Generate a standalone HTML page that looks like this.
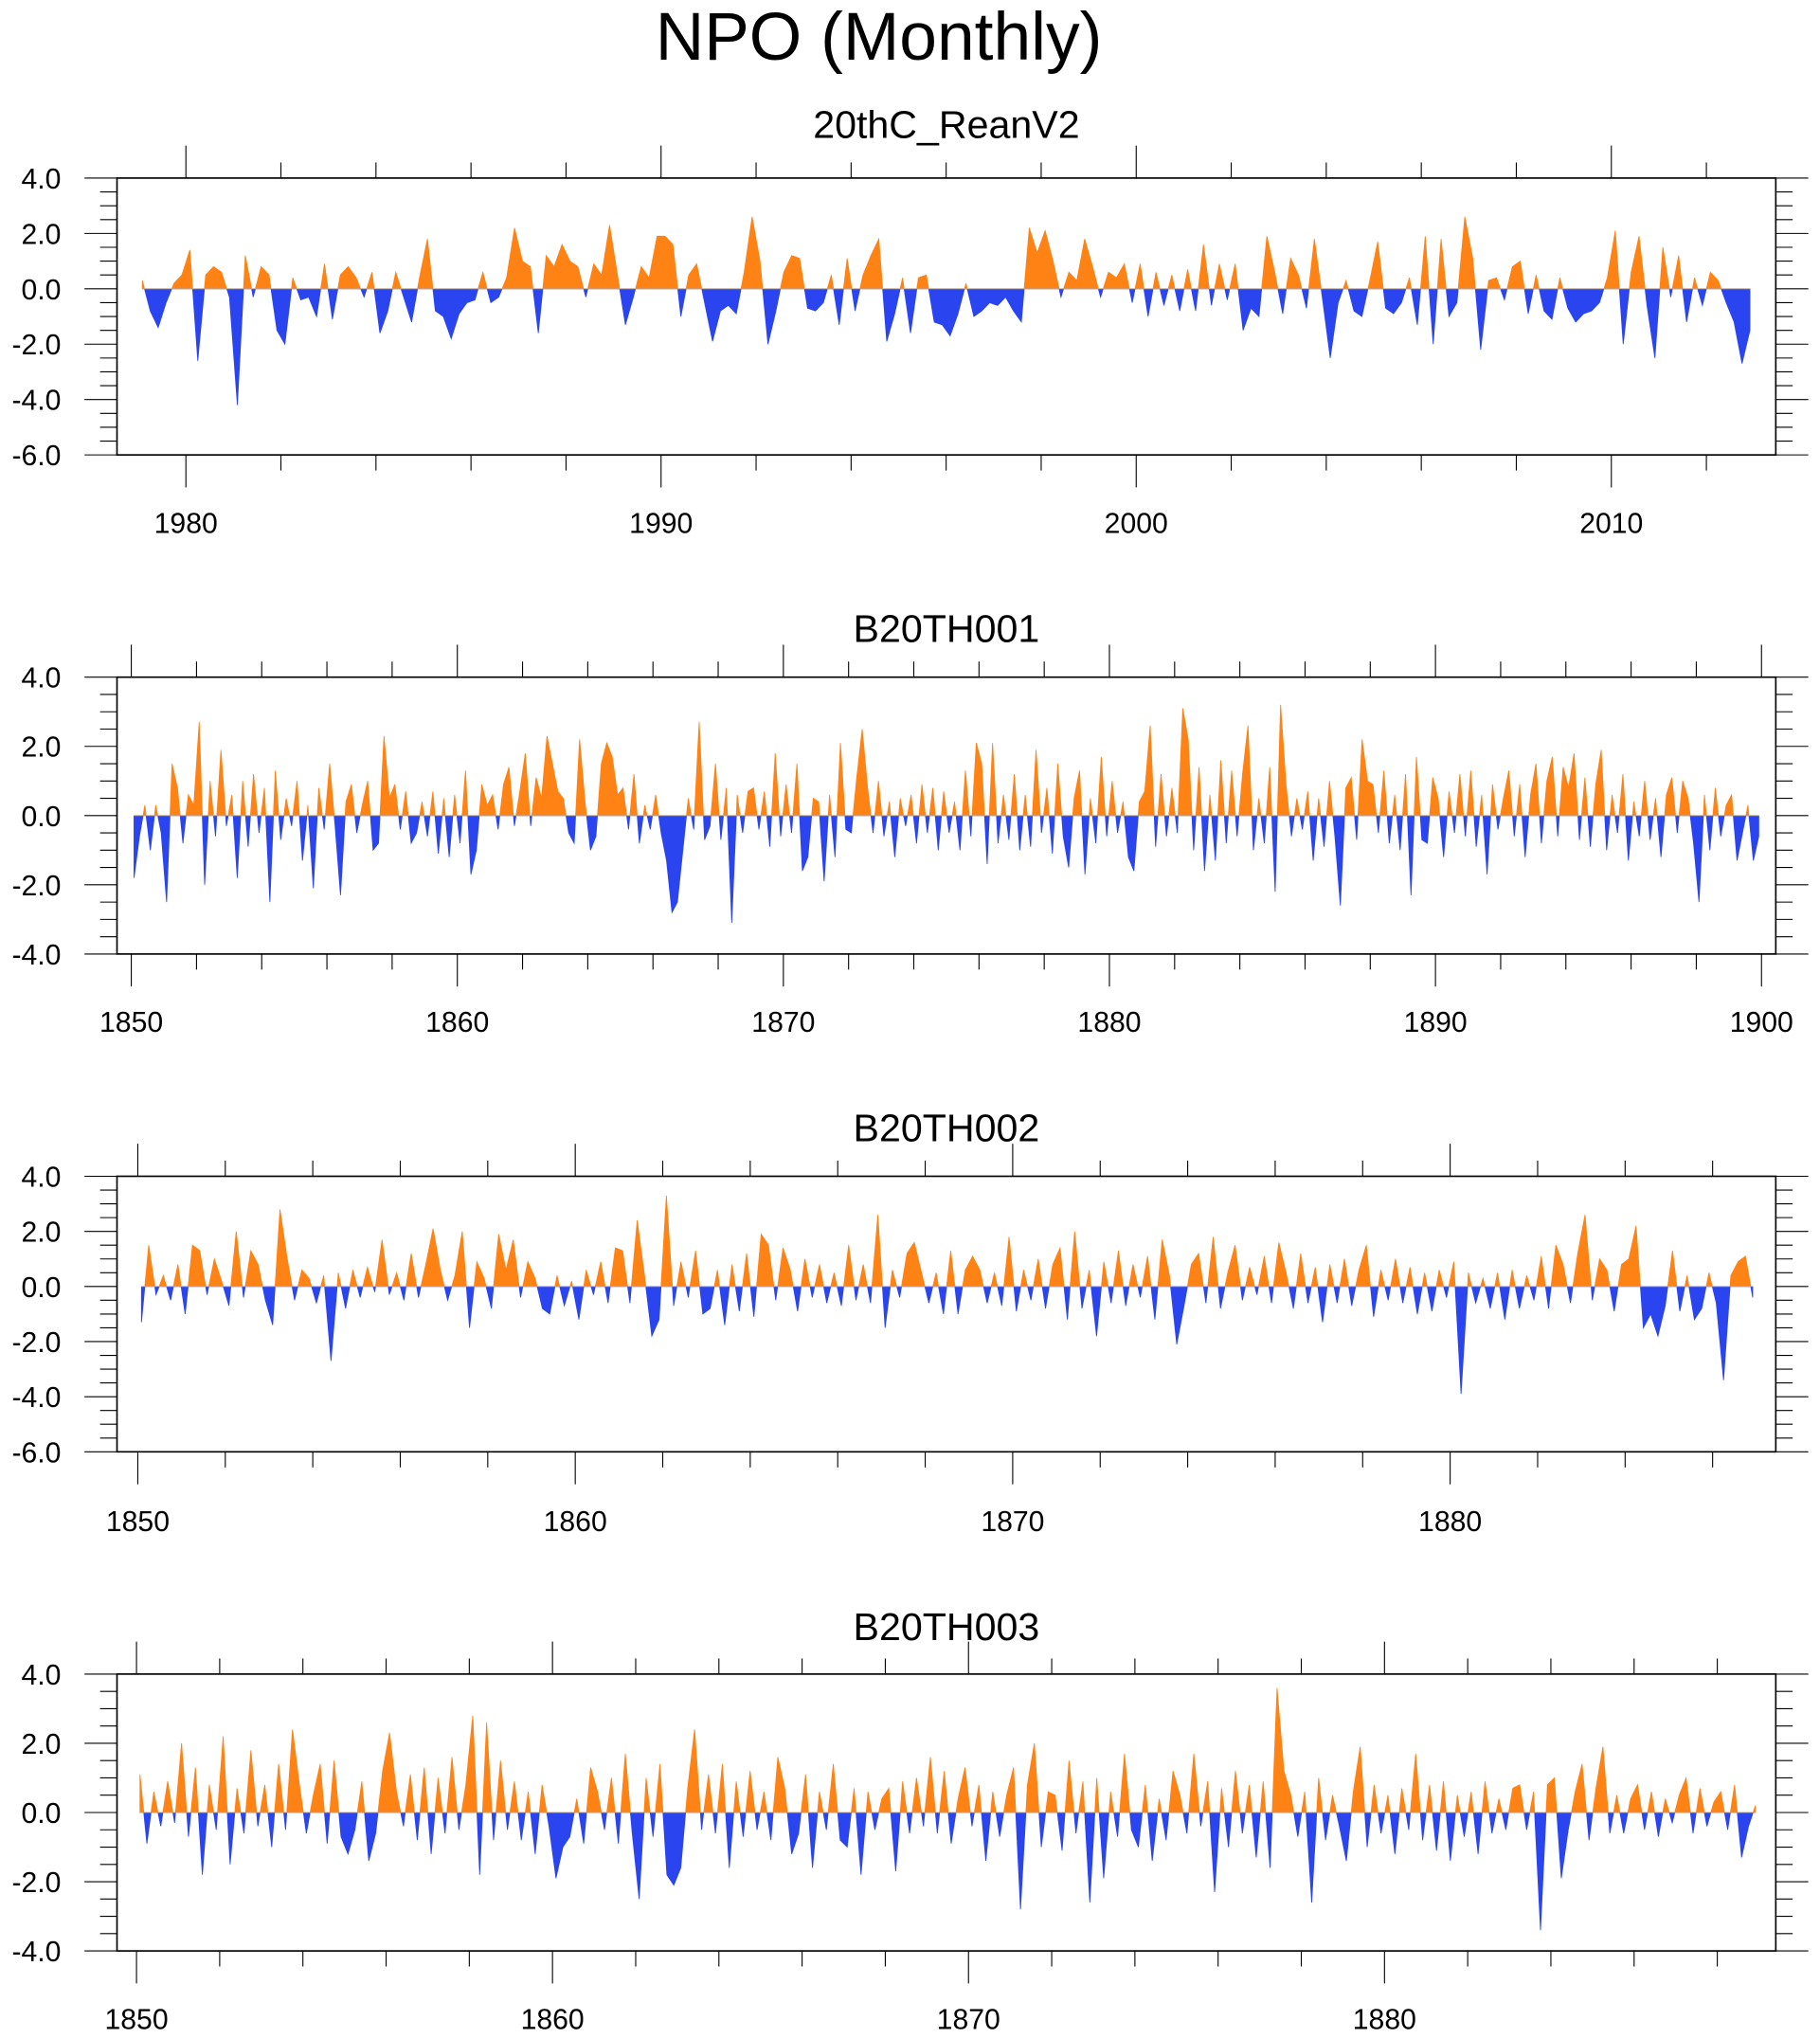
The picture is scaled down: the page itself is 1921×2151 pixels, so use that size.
<!DOCTYPE html>
<html><head><meta charset="utf-8"><style>
html,body{margin:0;padding:0;background:#fff;}
svg{display:block;font-family:"Liberation Sans",sans-serif;}
</style></head><body>
<svg id="chart" width="1921" height="2151" viewBox="0 0 1400 1568" preserveAspectRatio="none" xmlns="http://www.w3.org/2000/svg">
<text x="676" y="46" font-size="52" text-anchor="middle">NPO (Monthly)</text>
</svg>
<script>
// ---- data (bi-monthly samples) ----
const titles = ["20thC_ReanV2","B20TH001","B20TH002","B20TH003"];
const startYears = [1979,1850,1850,1850];
const yTickLabels1 = ["4.0","2.0","0.0","-2.0","-4.0","-6.0"];
const yTickLabels2 = ["4.0","2.0","0.0","-2.0","-4.0"];
const xTickYears1 = [1980,1990,2000,2010];
const xTickYears2 = [1850,1860,1870,1880,1890,1900];
const xTickYears3 = [1850,1860,1870,1880];
const series1 = [
0.3,-0.8,-1.4,-0.5,0.2,0.5,
1.4,-2.6,0.5,0.8,0.6,-0.3,
-4.2,1.2,-0.3,0.8,0.5,-1.5,
-2.0,0.4,-0.4,-0.3,-1.0,0.9,
-1.1,0.5,0.8,0.4,-0.3,0.6,
-1.6,-0.8,0.6,-0.3,-1.2,0.4,
1.8,-0.8,-1.0,-1.8,-0.9,-0.5,
-0.4,0.6,-0.5,-0.3,0.4,2.2,
1.0,0.8,-1.6,1.2,0.8,1.6,
1.0,0.8,-0.3,0.9,0.5,2.3,
0.5,-1.3,-0.3,0.8,0.4,1.9,
1.9,1.6,-1.0,0.5,0.9,-0.5,
-1.9,-0.8,-0.6,-0.9,0.6,2.6,
1.0,-2.0,-0.8,0.6,1.2,1.1,
-0.7,-0.8,-0.5,0.5,-1.3,1.1,
-0.8,0.5,1.2,1.8,-1.9,-0.9,
0.4,-1.6,0.4,0.5,-1.2,-1.3,
-1.7,-0.9,0.2,-1.0,-0.8,-0.5,
-0.6,-0.3,-0.8,-1.2,2.2,1.3,
2.1,1.0,-0.3,0.6,0.3,1.8,
0.8,-0.3,0.6,0.4,0.9,-0.5,
0.9,-1.0,0.6,-0.6,0.5,-0.8,
0.7,-0.8,1.6,-0.6,0.9,-0.4,
0.9,-1.5,-0.7,-1.0,1.9,0.6,
-0.9,1.1,0.5,-0.7,1.8,-0.3,
-2.5,-0.5,0.3,-0.8,-1.0,0.3,
1.7,-0.7,-0.9,-0.5,0.4,-1.3,
1.9,-2.0,1.8,-1.0,-0.5,2.6,
1.1,-2.2,0.3,0.4,-0.4,0.8,
1.0,-0.9,0.5,-0.8,-1.1,0.4,
-0.7,-1.2,-0.9,-0.8,-0.5,0.4,
2.1,-2.0,0.6,1.9,-0.6,-2.5,
1.5,-0.3,1.2,-1.2,0.4,-0.6,
0.6,0.3,-0.5,-1.2,-2.7,-1.5];
const series2 = [
-1.8,-0.6,0.3,-1.0,0.3,-0.5, -2.5,1.5,0.8,-0.8,0.6,0.3, 2.7,-2.0,1.0,-0.6,1.9,-0.3,
0.6,-1.8,1.0,-0.9,1.2,-0.5, 0.8,-2.5,1.3,-0.7,0.5,-0.3, 1.0,-1.3,0.3,-2.1,0.8,-0.4,
1.5,-0.3,-2.3,0.4,0.9,-0.5, 0.3,1.0,-1.0,-0.8,2.3,0.5, 0.9,-0.4,0.7,-0.8,-0.5,0.4,
-0.6,0.7,-1.1,0.5,-1.2,0.6, -0.8,1.3,-1.7,-1.0,0.9,0.3, 0.6,-0.4,0.9,1.4,-0.3,0.7,
1.8,-0.3,1.1,0.5,2.3,1.5, 0.7,0.5,-0.5,-0.8,2.2,0.4, -1.0,-0.6,1.5,2.1,1.7,0.6,
0.8,-0.4,1.2,-0.8,0.3,-0.4, 0.6,-0.5,-1.3,-2.8,-2.5,-1.0, 0.5,-0.4,2.7,-0.7,-0.3,1.5,
-0.7,0.8,-3.1,0.6,-0.5,0.7, 0.8,-0.4,0.7,-0.9,1.8,-0.6, 0.9,-0.5,1.5,-1.6,-1.2,0.5,
0.4,-1.9,0.6,-1.2,2.1,-0.4, -0.5,1.1,2.5,0.8,-0.5,1.0, -0.6,0.4,-1.2,0.5,-0.3,0.6,
-0.8,0.9,-0.5,0.8,-1.0,0.7, -0.5,0.4,-1.0,1.3,-0.6,2.1, 1.5,-1.4,2.1,-0.8,0.6,-0.7,
1.2,-1.0,0.6,-0.9,1.9,-0.5, 0.8,-1.1,1.5,-0.6,-1.5,0.5, 1.3,-1.7,0.5,-0.8,1.7,-0.6,
1.0,-0.5,0.4,-1.2,-1.6,0.4, 0.7,2.6,-0.9,1.2,-0.6,0.8, -0.5,3.1,2.2,-1.0,1.4,-1.6,
0.6,-1.3,1.6,-0.8,1.3,-0.6, 1.2,2.6,-1.0,0.5,-0.8,1.4, -2.2,3.2,0.9,-0.6,0.5,-0.4,
0.7,-1.3,0.5,-0.9,1.0,-0.6, -2.6,0.8,1.1,-0.7,2.2,1.0, 0.9,-0.5,1.3,-0.8,0.6,-1.0,
1.2,-2.3,1.7,-0.7,-0.8,1.1, 0.5,-1.2,0.7,-0.5,1.2,-0.6, 1.3,-0.9,0.6,-1.7,0.9,-0.4,
0.5,1.3,-0.6,0.9,-1.2,0.6, 1.5,-0.8,1.0,1.7,-0.6,1.4, 0.8,1.8,-0.7,1.1,-0.9,0.9,
1.9,-1.0,0.6,-0.5,1.2,-1.3, 0.4,-0.6,1.0,-0.7,0.5,-1.2, 0.6,1.1,-0.5,1.0,0.5,-0.8,
-2.5,0.6,-1.0,0.8,-0.6,0.3, 0.6,-1.3,-0.5,0.3,-1.3,-0.6];
const series3 = [
-1.3,1.5,-0.3,0.4,-0.5,0.8, -1.0,1.5,1.3,-0.3,1.0,0.2, -0.7,2.0,-0.4,1.3,0.8,-0.5,
-1.4,2.8,1.0,-0.5,0.6,0.3, -0.6,0.4,-2.7,0.5,-0.8,0.6, -0.4,0.7,-0.2,1.7,-0.3,0.5,
-0.5,1.2,-0.4,0.8,2.1,0.6, -0.5,0.4,2.0,-1.5,0.9,0.3, -0.8,1.9,0.6,1.7,-0.4,0.9,
0.3,-0.8,-1.0,0.4,-0.7,0.2, -1.2,0.6,-0.3,0.9,-0.6,1.4, 1.3,-0.6,2.4,0.4,-1.8,-1.2,
3.3,-0.7,0.9,-0.4,1.3,-1.0, -0.8,0.6,-1.4,0.8,-0.9,1.2, -1.1,1.9,1.5,-0.5,1.4,0.6,
-0.9,1.0,-0.4,0.8,-0.6,0.5, -0.7,1.5,-0.5,0.8,-0.6,2.6, -1.5,0.6,-0.4,1.2,1.6,0.5,
-0.6,0.5,-1.0,1.3,-1.0,0.6, 1.1,0.6,-0.6,0.5,-0.7,1.8, -0.9,0.6,-0.5,1.0,-0.8,0.8,
1.4,-1.2,2.0,-0.8,0.6,-1.8, 0.9,-0.6,1.3,-0.7,0.8,-0.4, 1.1,-1.2,1.7,0.4,-2.1,-0.7,
0.8,1.2,-0.6,1.8,-0.8,0.5, 1.5,-0.5,0.7,-0.3,1.1,-0.6, 1.6,0.5,-0.8,1.2,-0.6,0.7,
-1.3,0.8,-0.6,1.0,-0.7,0.6, 1.5,-1.1,0.6,-0.5,1.0,-0.6, 0.7,-1.0,0.5,-0.9,0.6,-0.4,
0.9,-3.9,0.5,-0.6,0.3,-0.8, 0.5,-1.2,0.6,-0.8,0.4,-0.5, 1.1,-0.8,1.5,0.8,-0.6,1.2,
2.6,-0.5,1.0,0.6,-0.9,0.8, 1.0,2.2,-1.5,-1.0,-1.8,-0.7, 1.3,-0.9,0.4,-1.2,-0.8,0.5,
-0.6,-3.4,0.4,0.9,1.1,-0.4];
const series4 = [
1.1,-0.9,0.6,-0.4,0.9,-0.3, 2.0,-0.7,1.3,-1.8,0.8,-0.5, 2.2,-1.5,0.7,-0.6,1.8,-0.4,
0.8,-1.0,1.4,-0.5,2.4,0.8, -0.6,0.5,1.4,-0.9,1.5,-0.7, -1.2,-0.5,0.9,-1.4,-0.6,1.2,
2.3,0.6,-0.4,1.1,-0.8,1.3, -1.2,1.0,-0.6,1.6,-0.5,0.8, 2.8,-1.8,2.6,-0.8,1.5,-0.5,
0.9,-0.8,0.6,-1.2,0.8,-0.4, -1.9,-1.0,-0.7,0.4,-0.9,1.3, 0.6,-0.5,1.0,-0.9,1.7,-0.6,
-2.5,1.0,-0.7,1.4,-1.8,-2.1, -1.6,0.7,2.4,-0.5,1.1,-0.6, 1.4,-1.6,0.9,-0.7,1.2,-0.5,
0.6,-0.8,1.6,0.7,-1.2,-0.6, 1.1,-1.6,0.6,-0.5,1.4,-0.8, -1.0,0.7,-1.8,0.6,-0.5,0.4,
0.7,-1.7,0.9,-0.6,1.0,-0.4, 1.6,-0.6,1.2,-0.9,0.4,1.3, -0.4,0.8,-1.4,0.6,-0.7,0.5,
1.3,-2.8,0.8,2.0,-1.0,0.6, 0.5,-1.1,1.5,-0.6,0.9,-2.6, 1.0,-1.9,0.6,-0.7,1.7,-0.5,
-1.0,0.8,-1.4,0.4,-0.8,1.2, 0.5,-0.6,1.7,-0.4,0.9,-2.3, 0.7,-1.0,1.2,-0.6,0.8,-1.3,
0.9,-1.6,3.6,1.2,0.5,-0.7, 0.6,-2.6,1.0,-0.8,0.5,-0.4, -1.4,0.6,1.9,-1.0,0.8,-0.6,
0.5,-1.2,0.7,-0.5,1.7,-0.8, 0.8,-1.1,0.9,-1.4,0.5,-0.7, 0.6,-1.2,0.9,-0.6,0.4,-0.5,
0.7,0.8,-0.5,0.6,-3.4,0.8, 1.0,-1.9,-0.5,0.6,1.4,-0.8, 0.7,1.9,-0.6,0.5,-0.6,0.4,
0.8,-0.5,0.6,-0.7,0.4,-0.3, 0.5,1.0,-0.6,0.7,-0.4,0.3, 0.6,-0.5,0.8,-1.3,-0.4,0.2];

const NS="http://www.w3.org/2000/svg";
const svg=document.getElementById('chart');
function mk(tag,attrs,parent){const e=document.createElementNS(NS,tag);for(const k in attrs)e.setAttribute(k,attrs[k]);(parent||svg).appendChild(e);return e;}

const panels=[
 {top:137,bot:350,ymin:-6,ymax:4,yl:yTickLabels1,x0Year:1980,x0:143,ppy:36.55,ticks:xTickYears1,data:series1,start:startYears[0],title:titles[0],ty:95,ly:402},
 {top:521,bot:734,ymin:-4,ymax:4,yl:yTickLabels2,x0Year:1850,x0:101,ppy:25.08,ticks:xTickYears2,data:series2,start:startYears[1],title:titles[1],ty:483,ly:786},
 {top:905,bot:1117,ymin:-6,ymax:4,yl:yTickLabels1,x0Year:1850,x0:106,ppy:33.65,ticks:xTickYears3,data:series3,start:startYears[2],title:titles[2],ty:867,ly:1170},
 {top:1288,bot:1501,ymin:-4,ymax:4,yl:yTickLabels2,x0Year:1850,x0:105,ppy:32.0,ticks:xTickYears3,data:series4,start:startYears[3],title:titles[3],ty:1251,ly:1553}
];
const L=90,R=1366;
panels.forEach((p,pi)=>{
  const g=mk('g',{});
  
  
  const X=t=>p.x0+(t-p.x0Year)*p.ppy;
  const Y=v=>p.top+(p.ymax-v)/(p.ymax-p.ymin)*(p.bot-p.top);
  const t=mk('text',{x:728,y:p.ty+11,'font-size':30,'text-anchor':'middle'},g);
  t.textContent=p.title;
  
  
  const defs=mk('defs',{},g);
  const cp=mk('clipPath',{id:'pos'+pi},defs); mk('rect',{x:L,y:p.top,width:R-L,height:Y(0)-p.top},cp);
  const cn=mk('clipPath',{id:'neg'+pi},defs); mk('rect',{x:L,y:Y(0),width:R-L,height:p.bot-Y(0)},cn);
  let d='';
  const n=p.data.length;
  const tFirst=p.start+1/12, tLast=p.start+(n-1)/6+1/12;
  d+='M'+X(tFirst).toFixed(2)+','+Y(0).toFixed(2);
  p.data.forEach((v,i)=>{const tt=p.start+i/6+1/12;d+='L'+X(tt).toFixed(2)+','+Y(v).toFixed(2);});
  d+='L'+X(tLast).toFixed(2)+','+Y(0).toFixed(2)+'Z';
  const pa=mk('path',{d:d,fill:'#ff8214',stroke:'#ff8214','stroke-width':0.6,'clip-path':'url(#pos'+pi+')'},g);
  
  
  const na=mk('path',{d:d,fill:'#2a44f0',stroke:'#2a44f0','stroke-width':0.6,'clip-path':'url(#neg'+pi+')'},g);
  
  
  mk('line',{x1:X(tFirst),x2:X(tLast),y1:Y(0),y2:Y(0),stroke:'#aaa','stroke-width':0.6},g);
  const fr=mk('rect',{x:L,y:p.top,width:R-L,height:p.bot-p.top,fill:'none',stroke:'#000','stroke-width':1.2},g);
  
  
  for(let v=p.ymin;v<=p.ymax+1e-6;v+=0.5){
    const yy=Y(v);const major=Math.abs(v/2-Math.round(v/2))<1e-6;
    const len=major?25:13;
    mk('line',{x1:L-len,x2:L,y1:yy,y2:yy,stroke:'#000','stroke-width':0.8},g);
    mk('line',{x1:R,x2:R+len,y1:yy,y2:yy,stroke:'#000','stroke-width':0.8},g);
  }
  p.yl.forEach((lab,i)=>{
    const v=p.ymax-2*i;
    const tx=mk('text',{x:47,y:Y(v)+8,'font-size':22,'text-anchor':'end'},g);
    tx.textContent=lab;
    
    
  });
  const yrStart=Math.ceil(p.x0Year-(p.x0-L)/p.ppy), yrEnd=Math.floor(p.x0Year+(R-p.x0)/p.ppy);
  for(let yr=yrStart;yr<=yrEnd;yr++){
    if(yr%2!==0)continue;
    const major=yr%10===0;const len=major?25:12;const xx=X(yr);
    mk('line',{x1:xx,x2:xx,y1:p.top-len,y2:p.top,stroke:'#000','stroke-width':0.8},g);
    mk('line',{x1:xx,x2:xx,y1:p.bot,y2:p.bot+len,stroke:'#000','stroke-width':0.8},g);
  }
  p.ticks.forEach(yr=>{
    const tx=mk('text',{x:X(yr),y:p.ly+8,'font-size':22,'text-anchor':'middle'},g);
    tx.textContent=String(yr);
    
    
  });
});
</script>
</body></html>
